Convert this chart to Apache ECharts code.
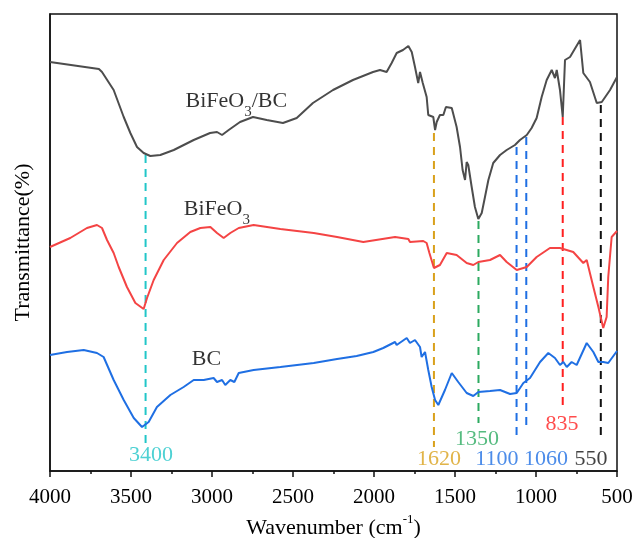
<!DOCTYPE html>
<html>
<head>
<meta charset="utf-8">
<script src="https://cdn.jsdelivr.net/npm/echarts@6/dist/echarts.min.js"></script>
<style>
  html, body { margin: 0; padding: 0; background: #fff; }
  #chart { width: 634px; height: 538px; }
</style>
</head>
<body>
<div id="chart"></div>
<script>
// FTIR spectra, [wavenumber (cm-1), transmittance (arb. units)]
const bfoBcSpectrum = [
  [4000, 409], [3698, 402], [3679, 399], [3607, 381], [3545, 354], [3504, 338], [3463, 324],
  [3422, 318], [3381, 315], [3319, 316], [3236, 321], [3113, 331], [3012, 338], [2969, 339],
  [2938, 336], [2897, 341], [2827, 349], [2747, 354], [2662, 351], [2562, 348], [2477, 353],
  [2377, 368], [2253, 381], [2130, 391], [2006, 399], [1963, 401], [1922, 399], [1891, 408],
  [1860, 418], [1821, 421], [1788, 425], [1767, 419], [1747, 404], [1727, 388], [1716, 399],
  [1699, 388], [1675, 374], [1665, 356], [1654, 354], [1634, 354], [1623, 341], [1613, 349],
  [1593, 356], [1572, 356], [1556, 364], [1520, 363], [1490, 344], [1469, 324], [1453, 301],
  [1438, 291], [1428, 309], [1418, 306], [1397, 284], [1377, 264], [1356, 252], [1335, 258],
  [1315, 274], [1294, 291], [1264, 308], [1222, 316], [1181, 321], [1130, 326], [1099, 331],
  [1057, 336], [1027, 343], [996, 353], [965, 374], [934, 391], [903, 401], [883, 393],
  [872, 401], [852, 381], [835, 354], [821, 411], [790, 414], [728, 431], [708, 398],
  [667, 389], [625, 368], [594, 369], [543, 381], [500, 394]
];
const bfoSpectrum = [
  [4000, 224], [3875, 233], [3772, 243], [3710, 246], [3679, 243], [3648, 231], [3607, 218],
  [3576, 204], [3525, 184], [3473, 168], [3422, 162], [3401, 173], [3360, 191], [3298, 211],
  [3216, 228], [3134, 239], [3072, 243], [3010, 244], [2969, 238], [2928, 233], [2887, 238],
  [2835, 243], [2743, 246], [2578, 242], [2372, 238], [2228, 234], [2066, 229], [1870, 234],
  [1860, 232], [1788, 232], [1778, 229], [1696, 230], [1675, 228], [1658, 218], [1630, 203],
  [1593, 206], [1551, 218], [1490, 216], [1428, 208], [1387, 206], [1356, 209], [1284, 211],
  [1222, 216], [1181, 209], [1119, 201], [1057, 204], [996, 214], [914, 223], [852, 223],
  [770, 219], [708, 208], [687, 211], [646, 184], [615, 164], [585, 143], [564, 154],
  [554, 194], [533, 234], [500, 240]
];
const bcSpectrum = [
  [4000, 116], [3895, 119], [3792, 121], [3710, 118], [3669, 114], [3607, 91], [3545, 71],
  [3483, 53], [3432, 44], [3391, 49], [3340, 64], [3257, 76], [3175, 84], [3113, 91],
  [3051, 91], [2990, 93], [2969, 89], [2938, 91], [2918, 86], [2887, 91], [2862, 89],
  [2835, 98], [2743, 101], [2578, 104], [2372, 108], [2228, 112], [2107, 115], [2004, 119],
  [1943, 123], [1870, 129], [1860, 126], [1798, 133], [1778, 128], [1747, 131], [1716, 124],
  [1706, 114], [1685, 119], [1665, 101], [1644, 84], [1623, 71], [1603, 66], [1562, 81],
  [1520, 98], [1480, 89], [1428, 78], [1387, 75], [1356, 79], [1284, 80], [1222, 81],
  [1160, 77], [1119, 78], [1078, 88], [1037, 93], [975, 109], [924, 118], [883, 113],
  [852, 106], [831, 109], [810, 104], [780, 109], [749, 106], [687, 128], [646, 119],
  [615, 109], [585, 109], [554, 108], [500, 120]
];

// peak guide lines: position, top, bottom, label text, label anchor, colour
const peakPositions = [3410, 1630, 1355, 1120, 1060, 835, 600];
const peakTops = [316, 338, 250, 324, 334, 354, 366];
const peakBottoms = [25, 24, 48, 34, 46, 64, 31];
const peakTexts = ['3400', '1620', '1350', '1100', '1060', '835', '550'];
const peakLabelAt = [[3377, 16], [1599, 12], [1364, 32], [1241, 12], [938, 12], [840, 47], [660, 12]];
const peakColors = ['#22c6c8', '#d9a11c', '#2caa60', '#1f6fe3', '#1f6fe3', '#ff1f1f', '#111111'];

// sample names
const sampleNames = ['{a|BiFeO}{s|3}{a|/BC}', '{a|BiFeO}{s|3}', '{a|BC}'];
const sampleNameAt = [[2850, 366], [2970, 258], [3034, 108]];

const serif = "'Liberation Serif', 'Times New Roman', serif";
const chart = echarts.init(document.getElementById('chart'));

const spectrumSeries = [
  { data: bfoBcSpectrum, color: '#4d4d4d' },
  { data: bfoSpectrum, color: '#f44444' },
  { data: bcSpectrum, color: '#1f6fe3' }
].map(s => ({
  type: 'line',
  data: s.data,
  showSymbol: false,
  lineStyle: { color: s.color, width: 2 },
  z: 3
}));

const guideSeries = peakPositions.map((w, i) => ({
  type: 'line',
  data: [[w, peakTops[i]], [w, peakBottoms[i]]],
  showSymbol: false,
  lineStyle: { color: peakColors[i], width: 2, type: [8, 6] },
  z: 2
}));

const peakLabelSeries = {
  type: 'scatter',
  symbolSize: 1,
  itemStyle: { color: 'rgba(0,0,0,0)' },
  data: peakLabelAt.map((p, i) => ({
    value: p,
    label: { formatter: peakTexts[i], color: peakColors[i] }
  })),
  label: {
    show: true,
    position: 'inside',
    fontFamily: serif,
    fontSize: 22
  },
  z: 4
};

const rich = {
  a: { fontFamily: serif, fontSize: 22, color: '#000', lineHeight: 30, verticalAlign: 'top' },
  s: { fontFamily: serif, fontSize: 15, color: '#000', lineHeight: 15, verticalAlign: 'bottom' }
};

const nameSeries = {
  type: 'scatter',
  symbolSize: 1,
  itemStyle: { color: 'rgba(0,0,0,0)' },
  data: sampleNameAt.map((p, i) => ({
    value: p,
    label: { formatter: sampleNames[i] }
  })),
  label: { show: true, position: 'inside', rich: rich },
  z: 4
};

const option = {
  animation: false,
  backgroundColor: '#fff',
  grid: {
    left: 50, right: 17, top: 14, bottom: 67,
    outerBoundsMode: 'none',
    show: true, borderColor: '#111', borderWidth: 1.5
  },
  xAxis: {
    type: 'value',
    min: 500,
    max: 4000,
    interval: 500,
    inverse: true,
    name: '{a|Wavenumber (cm}{s|-1}{a|)}',
    nameLocation: 'middle',
    nameGap: 41,
    nameTextStyle: {
      rich: {
        a: { fontFamily: serif, fontSize: 22, color: '#000', lineHeight: 26, verticalAlign: 'bottom' },
        s: { fontFamily: serif, fontSize: 13, color: '#000', lineHeight: 14, verticalAlign: 'top' }
      }
    },
    axisLine: { show: true, lineStyle: { color: '#111', width: 1.5 } },
    axisTick: { show: true, inside: false, length: 6, lineStyle: { color: '#111', width: 1.5 } },
    minorTick: { show: true, splitNumber: 2, length: 3, lineStyle: { color: '#111', width: 1.5 } },
    axisLabel: { fontFamily: serif, fontSize: 21, color: '#000', margin: 16, formatter: v => String(v) },
    splitLine: { show: false }
  },
  yAxis: {
    type: 'value',
    min: 0,
    max: 457,
    name: 'Transmittance(%)',
    nameLocation: 'middle',
    nameRotate: 90,
    nameGap: 16,
    nameTextStyle: { fontFamily: serif, fontSize: 22, color: '#000' },
    axisLine: { show: true, lineStyle: { color: '#111', width: 1.5 } },
    axisTick: { show: false },
    axisLabel: { show: false },
    splitLine: { show: false }
  },
  series: [...guideSeries, ...spectrumSeries, peakLabelSeries, nameSeries]
};

chart.setOption(option);
</script>
</body>
</html>
